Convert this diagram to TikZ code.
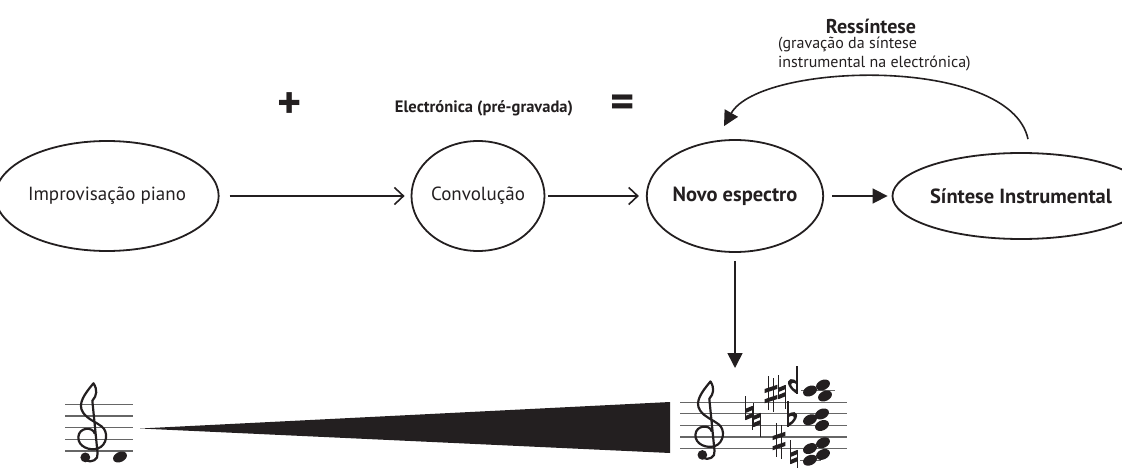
\documentclass[tikz,border=0pt]{standalone}
\usepackage{fontspec}
\setmainfont{PT Sans}
\usetikzlibrary{shapes.geometric,arrows.meta}
\definecolor{ink}{HTML}{231F20}
\tikzset{
  gclef/.pic={
    \draw[line width=2.2pt, line cap=round, line join=round]
      (0.4,0.5) .. controls (0.25,1.1) and (-0.95,1.05) .. (-1.0,0.2)
      .. controls (-1.05,-0.65) and (0.0,-1.0) .. (0.65,-0.8)
      .. controls (1.5,-0.5) and (1.6,0.65) .. (1.0,1.1)
      .. controls (0.5,1.5) and (-0.2,1.7) .. (-0.6,2.3)
      .. controls (-1.1,3.05) and (-0.45,3.9) .. (0.3,4.8)
      .. controls (0.65,4.25) and (0.6,3.75) .. (0.2,3.3)
      -- (0.65,-1.2)
      .. controls (0.75,-1.75) and (0.1,-2.05) .. (-0.35,-1.8);
    \fill (-0.4,-1.55) circle (0.42);
  },
  natural/.pic={
    \draw[line width=1.2pt] (-0.3,1.45) -- (-0.3,-0.6);
    \draw[line width=1.2pt] (0.3,0.6) -- (0.3,-1.45);
    \fill (-0.3,0.0) -- (0.3,0.25) -- (0.3,0.62) -- (-0.3,0.37) -- cycle;
    \fill (-0.3,-0.62) -- (0.3,-0.37) -- (0.3,0.0) -- (-0.3,-0.25) -- cycle;
  },
  sharp/.pic={
    \draw[line width=1.1pt] (-0.23,-1.35) -- (-0.23,1.55);
    \draw[line width=1.1pt] (0.23,-1.55) -- (0.23,1.35);
    \fill (-0.55,0.08) -- (0.55,0.45) -- (0.55,0.8) -- (-0.55,0.43) -- cycle;
    \fill (-0.55,-0.8) -- (0.55,-0.43) -- (0.55,-0.08) -- (-0.55,-0.45) -- cycle;
  },
  flat/.pic={
    \draw[line width=1.2pt] (0,1.6) -- (0,-0.6);
    \fill (0,-0.6) .. controls (0.7,-0.2) and (1.05,0.55) .. (0.55,0.68)
      .. controls (0.33,0.73) and (0.1,0.6) .. (0,0.42) -- (0,0.2)
      .. controls (0.2,0.42) and (0.55,0.42) .. (0.5,0.15)
      .. controls (0.45,-0.05) and (0.2,-0.2) .. (0,-0.3) -- cycle;
  },
  rflat/.pic={
    \draw[line width=1.2pt] (0,1.8) -- (0,-0.6);
    \fill (0,-0.6) .. controls (-0.7,-0.2) and (-1.05,0.55) .. (-0.55,0.68)
      .. controls (-0.33,0.73) and (-0.1,0.6) .. (0,0.42) -- (0,0.2)
      .. controls (-0.2,0.42) and (-0.55,0.42) .. (-0.5,0.15)
      .. controls (-0.45,-0.05) and (-0.2,-0.2) .. (0,-0.3) -- cycle;
  },
}
\newcommand\musicsym[4]{\begin{scope}[shift={(#2,#3)},x=#4pt,y=#4pt]\pic{#1};\end{scope}}
\newcommand\notehead[2]{\fill[rotate around={25:(#1,#2)}] (#1,#2) ellipse (7.3pt and 5pt);}
\begin{document}
\begin{tikzpicture}[x=1pt,y=-1pt, color=ink,
  bub/.style={draw, ellipse, line width=1.8pt, inner sep=0pt, text=ink,
    font=\fontsize{19}{22}\selectfont},
  bbub/.style={bub, font=\fontsize{20.5}{24}\selectfont\bfseries},
  conn/.style={line width=1.6pt},
  openarr/.style={conn, -{Straight Barb[length=9pt,width=17pt,line width=1.6pt]}},
  fullarr/.style={conn, -{Triangle[length=15pt,width=15pt]}},
  lbl/.style={inner sep=0pt, text=ink},
  staff/.style={line width=1.1pt, draw=black!60},
]
\useasboundingbox (0,0) rectangle (1122,468);

% main nodes
\node[bub, minimum width=190pt, minimum height=110pt] (imp) at (107,196) {Improvisação piano};
\node[bub, minimum width=133pt, minimum height=110pt] (conv) at (478,196) {Convolução};
\node[bbub, minimum width=142pt, minimum height=112pt] (novo) at (735,196) {Novo espectro};
\node[bbub, minimum width=198pt, minimum height=86pt] (sint) at (1021,196) {Síntese Instrumental};

% connectors
\draw[openarr, shorten <=10pt, shorten >=6pt] (imp) -- (conv);
\draw[openarr, shorten <=3pt, shorten >=7pt] (conv) -- (novo);
\draw[fullarr, shorten <=8pt, shorten >=4pt] (novo) -- (sint);
\coordinate (dn) at (735,368);
\draw[fullarr, shorten <=8pt] (novo.south) -- (dn);
\draw[fullarr] ([xshift=7pt,yshift=13pt]sint.north) .. controls (1010,55) and (760,62) .. ([xshift=-11pt,yshift=13pt]novo.north);

% labels
\node[lbl, font=\fontsize{46}{46}\selectfont\bfseries] (plus) at (290,106) {+};
\node[lbl, font=\fontsize{16.5}{20}\selectfont\bfseries] (elec) at (484,108) {Electrónica (pré-gravada)};
\node[lbl, font=\fontsize{46}{46}\selectfont\bfseries] (eq) at (623,106) {=};
\node[lbl, font=\fontsize{20}{24}\selectfont\bfseries] (res) at (871,26) {Ressíntese};
\node[lbl, font=\fontsize{16}{19}\selectfont, align=left, anchor=west] (grav) at (778,54.5) {(gravação da síntese\\instrumental na electrónica)};

% left staff
\foreach \y in {404.3,416,427.7,439.3,451} \draw[staff] (65,\y) -- (133,\y);
\musicsym{gclef}{90}{439.3}{11.67}
\notehead{120}{457}

% crescendo wedge
\fill (140,428.5) -- (670,402) -- (670,453) -- cycle;

% right staff
\foreach \y in {402.3,413.9,425.5,437.0,448.6} \draw[staff] (680,\y) -- (847,\y);
\draw[staff] (801,390.7) -- (835,390.7);
\draw[staff] (800,460.2) -- (821,460.2);
\musicsym{gclef}{707}{437}{11.57}
\musicsym{natural}{749}{413}{11.57}
\musicsym{natural}{757}{420}{11.57}
\musicsym{sharp}{771}{394}{11.57}
\musicsym{natural}{782}{392}{11.57}
\musicsym{rflat}{797}{387}{11.57}
\musicsym{flat}{788}{420}{11.57}
\musicsym{sharp}{779}{441}{11.57}
\musicsym{natural}{794}{457}{11.57}
\notehead{823}{385}
\notehead{810}{391}
\notehead{825}{396}
\notehead{822}{413.9}
\notehead{810}{419.7}
\notehead{822}{425.5}
\notehead{823}{442.8}
\notehead{810}{448.6}
\notehead{823}{454.4}
\notehead{810}{460.2}
\end{tikzpicture}
\end{document}
